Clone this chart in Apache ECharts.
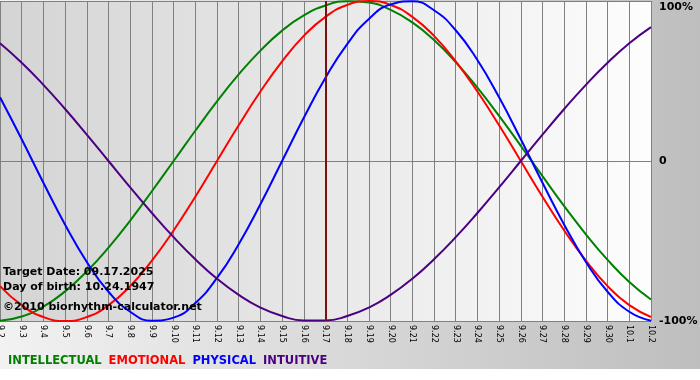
<!DOCTYPE html>
<html><head><meta charset="utf-8">
<script src="https://cdn.jsdelivr.net/npm/echarts@6/dist/echarts.min.js"></script>
<style>html,body{margin:0;padding:0;background:#fff}#c{width:700px;height:380px}</style>
</head><body><div id="c"></div>
<script>
const dates = ['9.2','9.3','9.4','9.5','9.6','9.7','9.8','9.9','9.10','9.11','9.12','9.13','9.14','9.15','9.16','9.17','9.18','9.19','9.20','9.21','9.22','9.23','9.24','9.25','9.26','9.27','9.28','9.29','9.30','10.1','10.2'];
const intellectual = [-0.999,-0.972,-0.910,-0.815,-0.690,-0.541,-0.372,-0.189,0,0.189,0.372,0.541,0.690,0.815,0.910,0.972,0.999,0.990,0.945,0.866,0.756,0.618,0.458,0.282,0.095,-0.095,-0.282,-0.458,-0.618,-0.756,-0.866];
const emotional = [-0.782,-0.901,-0.975,-1,-0.975,-0.901,-0.782,-0.623,-0.434,-0.223,0,0.223,0.434,0.623,0.782,0.901,0.975,1,0.975,0.901,0.782,0.623,0.434,0.223,0,-0.223,-0.434,-0.623,-0.782,-0.901,-0.975];
const physical = [0.398,0.136,-0.136,-0.398,-0.631,-0.817,-0.942,-0.998,-0.979,-0.888,-0.731,-0.520,-0.270,0,0.270,0.520,0.731,0.888,0.979,0.998,0.942,0.817,0.631,0.398,0.136,-0.136,-0.398,-0.631,-0.817,-0.942,-0.998];
const intuitive = [0.736,0.614,0.476,0.325,0.165,0,-0.165,-0.325,-0.476,-0.614,-0.736,-0.837,-0.916,-0.969,-0.997,-0.997,-0.969,-0.916,-0.837,-0.736,-0.614,-0.476,-0.325,-0.165,0,0.165,0.325,0.476,0.614,0.736,0.837];
const targetDate = '9.17';
const infoLines = ['Target Date: 09.17.2025', 'Day of birth: 10.24.1947', '©2010 biorhythm-calculator.net'];
const seriesNames = ['INTELLECTUAL','EMOTIONAL','PHYSICAL','INTUITIVE'];
const seriesColors = ['#008000','#ff0000','#0000ff','#4b0082'];
const seriesData = [intellectual, emotional, physical, intuitive];

const FONT = '"DejaVu Sans", Verdana, sans-serif';
const chart = echarts.init(document.getElementById('c'), null, {renderer:'canvas'});
const series = seriesNames.map((n,i)=>({
  name:n, type:'line', data:seriesData[i], smooth:true, showSymbol:false, symbol:'none',
  lineStyle:{color:seriesColors[i], width:2}, itemStyle:{color:seriesColors[i]}, z:3,
  markLine: i===0 ? {silent:true, symbol:'none', label:{show:false}, animation:false,
    lineStyle:{color:'#7a1010', width:2, type:'solid'}, data:[{xAxis:targetDate}]} : undefined
}));
chart.setOption({
  animation:false,
  backgroundColor:'#ffffff',
  graphic:[
    {type:'rect', z:-10, shape:{x:0,y:0,width:700,height:369},
     style:{fill:new echarts.graphic.LinearGradient(0,0,1,0,[{offset:0,color:'#f2f2f2'},{offset:1,color:'#bebebe'}])}},
    {type:'text', z:100, left:3, top:267, style:{text:infoLines[0], font:'bold 11px '+FONT, fill:'#000'}},
    {type:'text', z:100, left:3, top:282, style:{text:infoLines[1], font:'bold 11px '+FONT, fill:'#000'}},
    {type:'text', z:100, left:3, top:302, style:{text:infoLines[2], font:'bold 11px '+FONT, fill:'#000'}}
  ],
  legend:{left:3, top:355, itemWidth:0, itemHeight:0, itemGap:2, icon:'rect', padding:0,
    textStyle:{fontFamily:FONT, fontWeight:'bold', fontSize:11.5},
    data:seriesNames.map((n,i)=>({name:n, textStyle:{color:seriesColors[i]}})), selectedMode:false},
  grid:{left:0, right:49, top:1, bottom:59, show:true, borderWidth:0, containLabel:false, outerBoundsMode:'none',
    backgroundColor:new echarts.graphic.LinearGradient(0,0,1,0,[{offset:0,color:'#d4d4d4'},{offset:1,color:'#fdfdfd'}])},
  xAxis:{type:'category', data:dates, boundaryGap:false,
    axisLine:{lineStyle:{color:'#808080', width:1}},
    axisTick:{show:true, length:3, lineStyle:{color:'#808080'}, interval:0},
    splitLine:{show:true, interval:0, lineStyle:{color:'#808080', width:1}},
    axisLabel:{rotate:-90, interval:0, fontSize:8, fontFamily:FONT, color:'#000', margin:4}},
  yAxis:{type:'value', min:-1, max:1, interval:1, position:'right',
    axisLine:{show:false}, axisTick:{show:false},
    splitLine:{show:true, lineStyle:{color:'#808080', width:1}},
    axisLabel:{margin:8, color:'#000', fontFamily:FONT, fontWeight:'bold', fontSize:11,
      formatter:v=> v===1 ? '{t|100%}' : (v===0 ? '0' : Math.round(v*100)+'%'),
      rich:{t:{padding:[12,0,0,0], fontFamily:FONT, fontWeight:'bold', fontSize:11, color:'#000'}}}},
  series:series
});
</script></body></html>
